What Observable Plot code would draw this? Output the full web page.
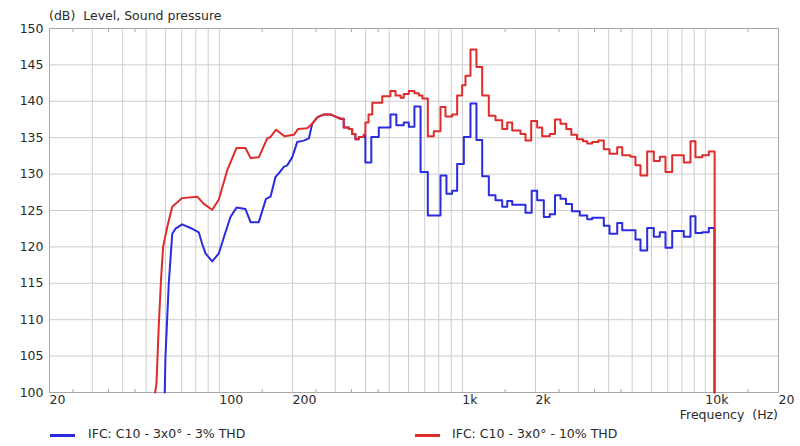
<!DOCTYPE html>
<html>
<head>
<meta charset="utf-8">
<script src="https://cdn.jsdelivr.net/npm/d3@7"></script>
<script src="https://cdn.jsdelivr.net/npm/@observablehq/plot@0.6"></script>
<style>
  html, body { margin: 0; padding: 0; background: #fff; }
  #wrap { position: relative; width: 800px; height: 446px; font-family: "DejaVu Sans", Verdana, sans-serif; font-size: 12.5px; line-height: 15px; color: #2a2a2a; }
  #wrap svg { position: absolute; left: 0; top: 0; }
  .lbl { position: absolute; white-space: pre; }
  .sw { position: absolute; width: 25px; height: 3px; }
</style>
</head>
<body>
<div id="wrap"></div>
<script>
// ---------- data ----------
const seriesNames = ["IFC: C10 - 3x0\u00b0 - 3% THD", "IFC: C10 - 3x0\u00b0 - 10% THD"];
const seriesColors = ["#2b2be0", "#e02b2b"];

// 3% THD (blue) - smooth low-frequency part
const blueLowFreq  = [59.6, 60.0, 61.9, 64.0, 66.0, 70.3, 76.1, 82.3, 85.0, 87.7, 93.5, 99.5, 104.3, 111.1, 117.7, 128.1, 134.4, 145.3, 155.6, 162.4, 170.2, 175.6, 184.2, 190.2, 199.4, 209.1, 222.6, 233.5, 241.0, 252.8, 269.1, 286.7, 300.6, 315];
const blueLowLevel = [100, 104.8, 114.9, 121.8, 122.5, 123.1, 122.6, 122.0, 120.4, 119.1, 118.0, 119.1, 121.3, 124.1, 125.4, 125.2, 123.4, 123.4, 126.6, 126.9, 129.6, 130.1, 131.0, 131.2, 132.3, 134.4, 134.6, 134.9, 136.9, 137.8, 138.2, 138.2, 137.9, 137.6];
// 3% THD (blue) - stepped bands (band start frequency, level)
const blueStepFreq  = [315, 325, 341, 352, 363, 375, 393, 399, 422, 453, 506, 535, 574, 602, 635, 673, 721, 813, 860, 908, 952, 1014, 1080, 1143, 1207, 1285, 1369, 1459, 1530, 1604, 1819, 1929, 2032, 2164, 2290, 2406, 2535, 2670, 2826, 3044, 3265, 3423, 3820, 4032, 4338, 4550, 5158, 5408, 5763, 6136, 6496, 6854, 7304, 8152, 8686, 9108, 9706, 10334, 10900];
const blueStepLevel = [137.6, 136.4, 136.2, 135.5, 134.8, 135.1, 135.4, 131.6, 135.1, 136.4, 138.2, 136.7, 137.1, 136.5, 139.3, 130.3, 124.3, 129.8, 127.3, 127.7, 131.4, 135.1, 139.7, 134.7, 129.7, 127.1, 126.4, 125.5, 126.3, 125.8, 124.7, 127.7, 126.4, 124.1, 124.5, 127.1, 126.6, 125.9, 124.9, 124.3, 123.8, 124.0, 122.9, 121.8, 123.3, 122.3, 121.0, 119.5, 122.6, 121.4, 122.0, 119.9, 122.2, 121.4, 124.2, 121.9, 122.0, 122.6, 100];

// 10% THD (red) - smooth low-frequency part
const redLowFreq  = [54.4, 55.1, 56.3, 57.6, 58.7, 61.0, 64.0, 70.3, 81.1, 86.3, 93.5, 99.5, 107.7, 117.7, 128.1, 134.4, 145.3, 157.4, 162.4, 171.3, 185.4, 202.5, 211.2, 229.9, 241.0, 252.8, 269.1, 286.7, 300.6, 315];
const redLowLevel = [100, 101.2, 109.0, 115.8, 120.0, 122.7, 125.5, 126.7, 126.9, 125.9, 125.1, 126.5, 130.5, 133.6, 133.6, 132.2, 132.3, 134.9, 135.1, 136.1, 135.2, 135.4, 136.2, 136.3, 136.9, 137.8, 138.2, 138.2, 137.9, 137.6];
// 10% THD (red) - stepped bands
const redStepFreq  = [315, 325, 341, 352, 363, 375, 393, 399, 411, 426, 468, 506, 531, 557, 574, 602, 635, 662, 685, 721, 763, 813, 852, 908, 952, 998, 1030, 1080, 1143, 1207, 1285, 1369, 1459, 1530, 1604, 1735, 1819, 1920, 2032, 2131, 2290, 2406, 2535, 2677, 2808, 2964, 3137, 3265, 3423, 3627, 3820, 4032, 4338, 4550, 4920, 5158, 5408, 5763, 6136, 6496, 6854, 7304, 8152, 8686, 9108, 9706, 10334, 10920];
const redStepLevel = [137.6, 136.4, 136.2, 135.5, 134.8, 135.1, 135.4, 137.1, 138.2, 139.8, 140.7, 141.4, 140.8, 140.5, 141.0, 141.4, 141.1, 140.8, 140.4, 135.2, 135.9, 139.2, 137.9, 138.2, 140.8, 142.2, 143.5, 147.1, 144.7, 140.8, 138.0, 137.4, 136.2, 137.1, 136.0, 135.5, 134.6, 137.3, 136.4, 135.2, 135.5, 137.5, 136.9, 136.2, 135.4, 134.8, 134.5, 134.2, 134.4, 134.6, 133.4, 132.8, 133.7, 132.6, 132.4, 131.2, 129.8, 133.1, 131.8, 132.4, 130.3, 132.6, 131.6, 134.5, 132.3, 132.6, 133.1, 100];

// axes
const yTicks = [100, 105, 110, 115, 120, 125, 130, 135, 140, 145, 150];
const xTickValues = [20, 50, 100, 200, 500, 1000, 2000, 5000, 10000, 20000];
const xTickLabels = ["20", "50", "100", "200", "500", "1k", "2k", "5k", "10k", "20"];
const gridFreqs = [20, 30, 40, 50, 60, 70, 80, 90, 100, 200, 300, 400, 500, 600, 700, 800, 900, 1000, 2000, 3000, 4000, 5000, 6000, 7000, 8000, 9000, 10000, 20000];
const minorTickFreqs = [25, 35, 45, 150, 250, 350, 450, 1500, 2500, 3500, 4500, 15000];

const titleText = "(dB)  Level, Sound pressure";
const xLabelText = "Frequency  (Hz)";

// ---------- chart ----------
const rows = (fs, ls) => fs.map((f, i) => ({f, db: ls[i]}));
const blueLow = rows(blueLowFreq, blueLowLevel);
const blueStep = rows(blueStepFreq, blueStepLevel);
const redLow = rows(redLowFreq, redLowLevel);
const redStep = rows(redStepFreq, redStepLevel);
const labelOf = d => xTickLabels[xTickValues.indexOf(d)];

const gridColor = "#cdcdcd";
const frameColor = "#a8a8a8";

const chart = Plot.plot({
  width: 800,
  height: 446,
  marginLeft: 49,
  marginRight: 22,
  marginTop: 28,
  marginBottom: 54,
  style: {fontFamily: '"DejaVu Sans", Verdana, sans-serif', fontSize: "12.5px", color: "#2a2a2a", background: "transparent"},
  x: {type: "log", domain: [20, 20000]},
  y: {domain: [100, 150]},
  marks: [
    Plot.ruleX(gridFreqs, {stroke: gridColor, strokeWidth: 1}),
    Plot.ruleY(yTicks, {stroke: gridColor, strokeWidth: 1}),
    Plot.frame({stroke: frameColor}),
    Plot.axisX(minorTickFreqs, {anchor: "bottom", tickSize: -3, tickFormat: () => "", stroke: frameColor, label: null}),
    Plot.axisX(minorTickFreqs, {anchor: "top", tickSize: -3, tickFormat: () => "", stroke: frameColor, label: null}),
    Plot.line(blueLow, {x: "f", y: "db", stroke: seriesColors[0], strokeWidth: 2}),
    Plot.line(blueStep, {x: "f", y: "db", curve: "step-after", stroke: seriesColors[0], strokeWidth: 2}),
    Plot.line(redLow, {x: "f", y: "db", stroke: seriesColors[1], strokeWidth: 2}),
    Plot.line(redStep, {x: "f", y: "db", curve: "step-after", stroke: seriesColors[1], strokeWidth: 2}),
    Plot.axisX(xTickValues, {anchor: "bottom", tickSize: 0, tickPadding: 3, tickFormat: labelOf, textAnchor: "start", label: null}),
    Plot.axisY(yTicks, {anchor: "left", tickSize: 0, tickPadding: 6, label: null})
  ]
});

const wrap = document.getElementById("wrap");
wrap.appendChild(chart);

function addLabel(text, left, top, extra) {
  const d = document.createElement("div");
  d.className = "lbl";
  d.textContent = text;
  d.style.left = left + "px";
  d.style.top = top + "px";
  if (extra) Object.assign(d.style, extra);
  wrap.appendChild(d);
  return d;
}
function addSwatch(color, left, top) {
  const s = document.createElement("div");
  s.className = "sw";
  s.style.background = color;
  s.style.left = left + "px";
  s.style.top = top + "px";
  wrap.appendChild(s);
}

addLabel(titleText, 49, 8);
addLabel(xLabelText, 0, 410.5, {left: "auto", right: "22px", lineHeight: "8px"});
addSwatch(seriesColors[0], 50, 434);
addLabel(seriesNames[0], 88, 426);
addSwatch(seriesColors[1], 415, 434);
addLabel(seriesNames[1], 452, 426);
</script>
</body>
</html>
